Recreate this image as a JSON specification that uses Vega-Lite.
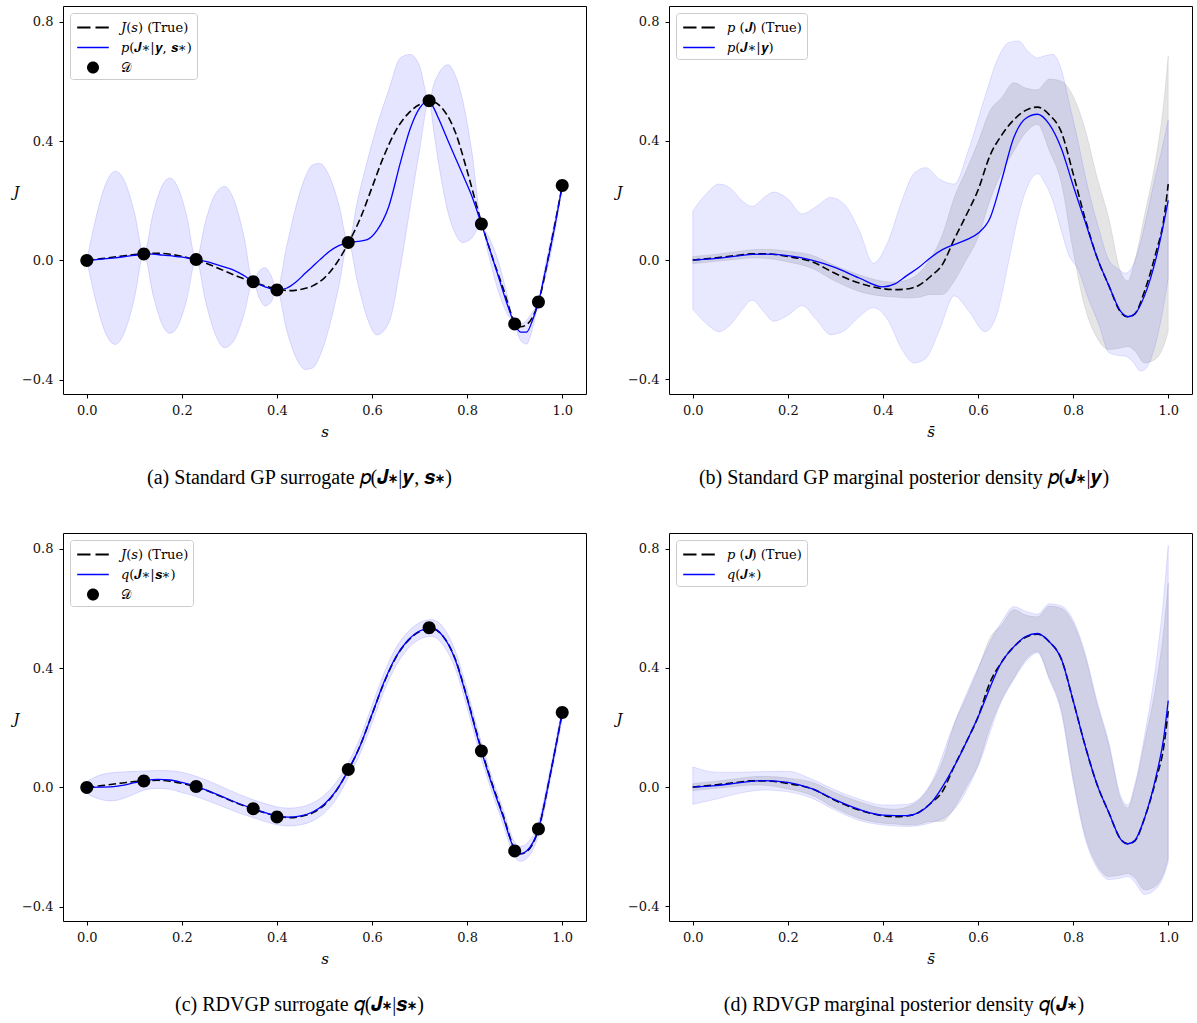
{
  "$schema": "https://vega.github.io/schema/vega-lite/v6.json",
  "background": "white",
  "padding": {"left": 12, "top": 5, "right": 4, "bottom": 4},
  "datasets": {
    "trueA": [
      {"s":0,"J":0},{"s":0.025,"J":0.005},{"s":0.05,"J":0.01},{"s":0.075,"J":0.015},{"s":0.1,"J":0.02},
      {"s":0.125,"J":0.023},{"s":0.15,"J":0.024},{"s":0.175,"J":0.021},{"s":0.2,"J":0.014},{"s":0.225,"J":0.004},
      {"s":0.25,"J":-0.009},{"s":0.275,"J":-0.025},{"s":0.3,"J":-0.042},{"s":0.325,"J":-0.058},{"s":0.35,"J":-0.072},
      {"s":0.375,"J":-0.085},{"s":0.4,"J":-0.095},{"s":0.425,"J":-0.101},{"s":0.45,"J":-0.097},{"s":0.475,"J":-0.085},
      {"s":0.5,"J":-0.058},{"s":0.525,"J":-0.01},{"s":0.55,"J":0.058},{"s":0.575,"J":0.14},{"s":0.6,"J":0.245},
      {"s":0.625,"J":0.35},{"s":0.65,"J":0.435},{"s":0.675,"J":0.49},{"s":0.7,"J":0.522},{"s":0.725,"J":0.532},
      {"s":0.75,"J":0.505},{"s":0.775,"J":0.43},{"s":0.8,"J":0.3},{"s":0.825,"J":0.155},{"s":0.85,"J":0.025},
      {"s":0.875,"J":-0.09},{"s":0.9,"J":-0.205},{"s":0.9125,"J":-0.222},{"s":0.925,"J":-0.215},{"s":0.95,"J":-0.14},
      {"s":0.975,"J":0.045},{"s":1,"J":0.25}
    ],
    "pts": [
      {"s":0,"J":0},{"s":0.12,"J":0.022},{"s":0.23,"J":0.003},{"s":0.35,"J":-0.071},{"s":0.4,"J":-0.099},
      {"s":0.55,"J":0.06},{"s":0.72,"J":0.535},{"s":0.83,"J":0.122},{"s":0.9,"J":-0.213},{"s":0.95,"J":-0.139},{"s":1,"J":0.251}
    ],
    "gpA": [
      {"s":0,"m":0,"lo":0,"hi":0},
      {"s":0.02,"m":0.003,"lo":-0.142,"hi":0.148},
      {"s":0.04,"m":0.006,"lo":-0.245,"hi":0.257},
      {"s":0.06,"m":0.009,"lo":-0.281,"hi":0.299},
      {"s":0.08,"m":0.013,"lo":-0.238,"hi":0.264},
      {"s":0.1,"m":0.017,"lo":-0.128,"hi":0.162},
      {"s":0.12,"m":0.022,"lo":0.022,"hi":0.022},
      {"s":0.14,"m":0.021,"lo":-0.119,"hi":0.161},
      {"s":0.16,"m":0.018,"lo":-0.219,"hi":0.255},
      {"s":0.175,"m":0.016,"lo":-0.244,"hi":0.276},
      {"s":0.19,"m":0.013,"lo":-0.224,"hi":0.25},
      {"s":0.21,"m":0.009,"lo":-0.133,"hi":0.151},
      {"s":0.23,"m":0.003,"lo":0.003,"hi":0.003},
      {"s":0.25,"m":-0.003,"lo":-0.138,"hi":0.132},
      {"s":0.27,"m":-0.012,"lo":-0.246,"hi":0.222},
      {"s":0.29,"m":-0.022,"lo":-0.292,"hi":0.248},
      {"s":0.31,"m":-0.033,"lo":-0.267,"hi":0.201},
      {"s":0.33,"m":-0.05,"lo":-0.185,"hi":0.085},
      {"s":0.35,"m":-0.071,"lo":-0.071,"hi":-0.071},
      {"s":0.3625,"m":-0.08,"lo":-0.125,"hi":-0.035},
      {"s":0.375,"m":-0.088,"lo":-0.152,"hi":-0.024},
      {"s":0.3875,"m":-0.095,"lo":-0.14,"hi":-0.05},
      {"s":0.4,"m":-0.099,"lo":-0.099,"hi":-0.099},
      {"s":0.42,"m":-0.093,"lo":-0.231,"hi":0.045},
      {"s":0.44,"m":-0.072,"lo":-0.325,"hi":0.181},
      {"s":0.46,"m":-0.042,"lo":-0.365,"hi":0.281},
      {"s":0.475,"m":-0.02,"lo":-0.36,"hi":0.32},
      {"s":0.49,"m":0.002,"lo":-0.321,"hi":0.325},
      {"s":0.51,"m":0.03,"lo":-0.223,"hi":0.283},
      {"s":0.53,"m":0.05,"lo":-0.088,"hi":0.188},
      {"s":0.55,"m":0.06,"lo":0.06,"hi":0.06},
      {"s":0.57,"m":0.064,"lo":-0.077,"hi":0.205},
      {"s":0.59,"m":0.07,"lo":-0.193,"hi":0.333},
      {"s":0.61,"m":0.1,"lo":-0.249,"hi":0.449},
      {"s":0.635,"m":0.18,"lo":-0.21,"hi":0.57},
      {"s":0.66,"m":0.33,"lo":-0.019,"hi":0.679},
      {"s":0.68,"m":0.44,"lo":0.177,"hi":0.69},
      {"s":0.7,"m":0.51,"lo":0.369,"hi":0.651},
      {"s":0.72,"m":0.535,"lo":0.535,"hi":0.535},
      {"s":0.73,"m":0.51,"lo":0.43,"hi":0.59},
      {"s":0.74,"m":0.475,"lo":0.325,"hi":0.626},
      {"s":0.76,"m":0.4,"lo":0.16,"hi":0.655},
      {"s":0.775,"m":0.345,"lo":0.09,"hi":0.62},
      {"s":0.79,"m":0.29,"lo":0.06,"hi":0.54},
      {"s":0.81,"m":0.215,"lo":0.075,"hi":0.363},
      {"s":0.83,"m":0.122,"lo":0.122,"hi":0.122},
      {"s":0.845,"m":0.05,"lo":0.019,"hi":0.081},
      {"s":0.865,"m":-0.05,"lo":-0.1,"hi":0.0},
      {"s":0.885,"m":-0.15,"lo":-0.181,"hi":-0.119},
      {"s":0.9,"m":-0.213,"lo":-0.213,"hi":-0.213},
      {"s":0.9125,"m":-0.24,"lo":-0.268,"hi":-0.212},
      {"s":0.925,"m":-0.24,"lo":-0.28,"hi":-0.2},
      {"s":0.9375,"m":-0.2,"lo":-0.228,"hi":-0.172},
      {"s":0.95,"m":-0.139,"lo":-0.139,"hi":-0.139},
      {"s":0.9625,"m":-0.05,"lo":-0.068,"hi":-0.032},
      {"s":0.975,"m":0.04,"lo":0.015,"hi":0.065},
      {"s":0.9875,"m":0.14,"lo":0.122,"hi":0.158},
      {"s":1,"m":0.251,"lo":0.251,"hi":0.251}
    ],
    "trueB": [
      {"s":0,"J":0,"lo":-0.012,"hi":0.012},
      {"s":0.05,"J":0.008,"lo":-0.004,"hi":0.02},
      {"s":0.1,"J":0.017,"lo":0.004,"hi":0.03},
      {"s":0.125,"J":0.021,"lo":0.007,"hi":0.035},
      {"s":0.15,"J":0.021,"lo":0.006,"hi":0.036},
      {"s":0.2,"J":0.012,"lo":-0.006,"hi":0.03},
      {"s":0.25,"J":-0.005,"lo":-0.027,"hi":0.017},
      {"s":0.3,"J":-0.045,"lo":-0.071,"hi":-0.019},
      {"s":0.35,"J":-0.077,"lo":-0.105,"hi":-0.049},
      {"s":0.4,"J":-0.096,"lo":-0.121,"hi":-0.071},
      {"s":0.425,"J":-0.099,"lo":-0.124,"hi":-0.074},
      {"s":0.45,"J":-0.097,"lo":-0.127,"hi":-0.067},
      {"s":0.475,"J":-0.085,"lo":-0.125,"hi":-0.045},
      {"s":0.5,"J":-0.055,"lo":-0.115,"hi":0.005},
      {"s":0.525,"J":-0.015,"lo":-0.115,"hi":0.085},
      {"s":0.55,"J":0.07,"lo":-0.07,"hi":0.21},
      {"s":0.575,"J":0.15,"lo":0.0,"hi":0.3},
      {"s":0.6,"J":0.235,"lo":0.075,"hi":0.395},
      {"s":0.625,"J":0.35,"lo":0.2,"hi":0.5},
      {"s":0.65,"J":0.42,"lo":0.295,"hi":0.545},
      {"s":0.675,"J":0.47,"lo":0.365,"hi":0.595},
      {"s":0.7,"J":0.502,"lo":0.427,"hi":0.577},
      {"s":0.725,"J":0.513,"lo":0.455,"hi":0.571},
      {"s":0.75,"J":0.487,"lo":0.367,"hi":0.607},
      {"s":0.775,"J":0.43,"lo":0.26,"hi":0.6},
      {"s":0.8,"J":0.29,"lo":0.03,"hi":0.55},
      {"s":0.825,"J":0.14,"lo":-0.16,"hi":0.44},
      {"s":0.85,"J":0.01,"lo":-0.26,"hi":0.28},
      {"s":0.875,"J":-0.085,"lo":-0.3,"hi":0.14},
      {"s":0.9,"J":-0.175,"lo":-0.295,"hi":-0.04},
      {"s":0.915,"J":-0.19,"lo":-0.29,"hi":-0.07},
      {"s":0.93,"J":-0.18,"lo":-0.305,"hi":0.0},
      {"s":0.95,"J":-0.105,"lo":-0.345,"hi":0.15},
      {"s":0.975,"J":0.03,"lo":-0.33,"hi":0.35},
      {"s":0.99,"J":0.13,"lo":-0.29,"hi":0.52},
      {"s":1,"J":0.255,"lo":-0.24,"hi":0.685}
    ],
    "meanB": [
      {"s":0,"m":0},{"s":0.05,"m":0.006},{"s":0.1,"m":0.015},{"s":0.125,"m":0.019},{"s":0.15,"m":0.02},
      {"s":0.2,"m":0.015},{"s":0.25,"m":0.0},{"s":0.3,"m":-0.025},{"s":0.35,"m":-0.06},{"s":0.4,"m":-0.09},
      {"s":0.425,"m":-0.08},{"s":0.45,"m":-0.052},{"s":0.475,"m":-0.025},{"s":0.5,"m":0.008},{"s":0.525,"m":0.035},
      {"s":0.55,"m":0.052},{"s":0.575,"m":0.068},{"s":0.6,"m":0.09},{"s":0.625,"m":0.14},{"s":0.65,"m":0.27},
      {"s":0.675,"m":0.41},{"s":0.7,"m":0.475},{"s":0.725,"m":0.489},{"s":0.75,"m":0.455},{"s":0.775,"m":0.375},
      {"s":0.8,"m":0.25},{"s":0.825,"m":0.13},{"s":0.85,"m":0.01},{"s":0.875,"m":-0.085},{"s":0.9,"m":-0.172},
      {"s":0.915,"m":-0.19},{"s":0.93,"m":-0.18},{"s":0.95,"m":-0.12},{"s":0.975,"m":0.01},{"s":1,"m":0.2}
    ],
    "bandB": [
      {"s":0,"lo":-0.165,"hi":0.165},{"s":0.03,"lo":-0.215,"hi":0.225},{"s":0.055,"lo":-0.24,"hi":0.255},
      {"s":0.08,"lo":-0.215,"hi":0.24},{"s":0.1,"lo":-0.175,"hi":0.205},{"s":0.125,"lo":-0.135,"hi":0.18},
      {"s":0.15,"lo":-0.175,"hi":0.21},{"s":0.17,"lo":-0.205,"hi":0.228},{"s":0.2,"lo":-0.185,"hi":0.205},
      {"s":0.23,"lo":-0.153,"hi":0.155},{"s":0.26,"lo":-0.2,"hi":0.18},{"s":0.29,"lo":-0.25,"hi":0.21},
      {"s":0.32,"lo":-0.235,"hi":0.185},{"s":0.35,"lo":-0.19,"hi":0.1},{"s":0.38,"lo":-0.16,"hi":-0.01},
      {"s":0.41,"lo":-0.2,"hi":0.06},{"s":0.44,"lo":-0.3,"hi":0.2},{"s":0.465,"lo":-0.345,"hi":0.29},
      {"s":0.49,"lo":-0.33,"hi":0.31},{"s":0.52,"lo":-0.23,"hi":0.27},{"s":0.55,"lo":-0.12,"hi":0.255},
      {"s":0.58,"lo":-0.17,"hi":0.37},{"s":0.615,"lo":-0.24,"hi":0.55},{"s":0.64,"lo":-0.18,"hi":0.67},
      {"s":0.665,"lo":0.0,"hi":0.73},{"s":0.685,"lo":0.15,"hi":0.735},{"s":0.705,"lo":0.25,"hi":0.7},
      {"s":0.725,"lo":0.29,"hi":0.678},{"s":0.74,"lo":0.26,"hi":0.685},{"s":0.757,"lo":0.2,"hi":0.69},
      {"s":0.775,"lo":0.1,"hi":0.64},{"s":0.79,"lo":0.02,"hi":0.54},{"s":0.81,"lo":-0.03,"hi":0.4},
      {"s":0.83,"lo":-0.12,"hi":0.25},{"s":0.855,"lo":-0.22,"hi":0.1},{"s":0.875,"lo":-0.31,"hi":0.0},
      {"s":0.895,"lo":-0.32,"hi":-0.03},{"s":0.91,"lo":-0.322,"hi":-0.044},{"s":0.925,"lo":-0.34,"hi":-0.02},
      {"s":0.942,"lo":-0.372,"hi":0.06},{"s":0.955,"lo":-0.36,"hi":0.15},{"s":0.97,"lo":-0.3,"hi":0.26},
      {"s":0.985,"lo":-0.2,"hi":0.36},{"s":1,"lo":-0.06,"hi":0.47}
    ],
    "gpC": [
      {"s":0,"m":0,"lo":-0.02,"hi":0.02},{"s":0.025,"m":0.001,"lo":-0.038,"hi":0.04},
      {"s":0.05,"m":0.002,"lo":-0.045,"hi":0.049},{"s":0.075,"m":0.007,"lo":-0.038,"hi":0.052},
      {"s":0.1,"m":0.016,"lo":-0.022,"hi":0.054},{"s":0.125,"m":0.024,"lo":-0.007,"hi":0.055},
      {"s":0.15,"m":0.027,"lo":-0.003,"hi":0.057},{"s":0.175,"m":0.025,"lo":-0.006,"hi":0.056},
      {"s":0.2,"m":0.017,"lo":-0.017,"hi":0.051},{"s":0.225,"m":0.006,"lo":-0.028,"hi":0.04},
      {"s":0.25,"m":-0.008,"lo":-0.042,"hi":0.026},{"s":0.275,"m":-0.024,"lo":-0.057,"hi":0.009},
      {"s":0.3,"m":-0.041,"lo":-0.073,"hi":-0.009},{"s":0.325,"m":-0.057,"lo":-0.088,"hi":-0.026},
      {"s":0.35,"m":-0.071,"lo":-0.101,"hi":-0.041},{"s":0.375,"m":-0.084,"lo":-0.114,"hi":-0.054},
      {"s":0.4,"m":-0.095,"lo":-0.125,"hi":-0.065},{"s":0.425,"m":-0.099,"lo":-0.129,"hi":-0.069},
      {"s":0.45,"m":-0.095,"lo":-0.125,"hi":-0.065},{"s":0.475,"m":-0.082,"lo":-0.112,"hi":-0.052},
      {"s":0.5,"m":-0.055,"lo":-0.085,"hi":-0.025},{"s":0.525,"m":-0.01,"lo":-0.038,"hi":0.018},
      {"s":0.55,"m":0.058,"lo":0.033,"hi":0.083},{"s":0.575,"m":0.14,"lo":0.113,"hi":0.167},
      {"s":0.6,"m":0.245,"lo":0.215,"hi":0.275},{"s":0.625,"m":0.352,"lo":0.322,"hi":0.382},
      {"s":0.65,"m":0.437,"lo":0.407,"hi":0.467},{"s":0.675,"m":0.492,"lo":0.464,"hi":0.52},
      {"s":0.7,"m":0.524,"lo":0.496,"hi":0.552},{"s":0.725,"m":0.534,"lo":0.506,"hi":0.562},
      {"s":0.75,"m":0.505,"lo":0.475,"hi":0.535},{"s":0.775,"m":0.428,"lo":0.398,"hi":0.458},
      {"s":0.8,"m":0.297,"lo":0.267,"hi":0.327},{"s":0.825,"m":0.15,"lo":0.122,"hi":0.178},
      {"s":0.85,"m":0.02,"lo":-0.005,"hi":0.045},{"s":0.875,"m":-0.095,"lo":-0.12,"hi":-0.07},
      {"s":0.9,"m":-0.208,"lo":-0.233,"hi":-0.183},{"s":0.9125,"m":-0.222,"lo":-0.247,"hi":-0.197},
      {"s":0.925,"m":-0.213,"lo":-0.238,"hi":-0.188},{"s":0.95,"m":-0.138,"lo":-0.16,"hi":-0.116},
      {"s":0.975,"m":0.045,"lo":0.025,"hi":0.065},{"s":1,"m":0.25,"lo":0.23,"hi":0.27}
    ],
    "gpD": [
      {"s":0,"m":0,"lo":-0.058,"hi":0.068},{"s":0.05,"m":0.005,"lo":-0.04,"hi":0.05},
      {"s":0.1,"m":0.015,"lo":-0.02,"hi":0.05},{"s":0.15,"m":0.022,"lo":-0.01,"hi":0.052},
      {"s":0.2,"m":0.016,"lo":-0.016,"hi":0.053},{"s":0.25,"m":-0.005,"lo":-0.037,"hi":0.027},
      {"s":0.3,"m":-0.043,"lo":-0.078,"hi":-0.01},{"s":0.35,"m":-0.075,"lo":-0.112,"hi":-0.04},
      {"s":0.4,"m":-0.094,"lo":-0.127,"hi":-0.06},{"s":0.45,"m":-0.096,"lo":-0.132,"hi":-0.058},
      {"s":0.5,"m":-0.055,"lo":-0.12,"hi":0.01},{"s":0.55,"m":0.07,"lo":-0.075,"hi":0.215},
      {"s":0.6,"m":0.235,"lo":0.07,"hi":0.4},{"s":0.65,"m":0.42,"lo":0.29,"hi":0.555},
      {"s":0.675,"m":0.47,"lo":0.36,"hi":0.605},{"s":0.7,"m":0.505,"lo":0.42,"hi":0.59},
      {"s":0.725,"m":0.515,"lo":0.45,"hi":0.58},{"s":0.75,"m":0.487,"lo":0.36,"hi":0.615},
      {"s":0.775,"m":0.43,"lo":0.25,"hi":0.608},{"s":0.8,"m":0.29,"lo":0.02,"hi":0.56},
      {"s":0.825,"m":0.14,"lo":-0.17,"hi":0.45},{"s":0.85,"m":0.01,"lo":-0.27,"hi":0.29},
      {"s":0.875,"m":-0.085,"lo":-0.31,"hi":0.15},{"s":0.9,"m":-0.175,"lo":-0.305,"hi":-0.03},
      {"s":0.915,"m":-0.19,"lo":-0.3,"hi":-0.06},{"s":0.93,"m":-0.178,"lo":-0.32,"hi":0.01},
      {"s":0.95,"m":-0.105,"lo":-0.36,"hi":0.17},{"s":0.975,"m":0.04,"lo":-0.34,"hi":0.42},
      {"s":0.99,"m":0.16,"lo":-0.3,"hi":0.63},{"s":1,"m":0.29,"lo":-0.25,"hi":0.81}
    ]
  },
  "columns": 2,
  "spacing": {"row": 43, "column": 28},
  "resolve": {"scale": {"x": "independent", "y": "independent", "color": "independent", "stroke": "independent", "fill": "independent", "shape": "independent"}},
  "concat": [
    {
      "width": 523, "height": 388,
      "title": {"text": "(a) Standard GP surrogate 𝑝(𝑱∗|𝒚, 𝒔∗)", "orient": "bottom", "anchor": "middle", "frame": "bounds", "font": "Liberation Serif", "fontSize": 20, "fontWeight": "normal", "color": "black", "offset": 29},
      "layer": [
        {
          "data": {"name": "gpA"},
          "mark": {"type": "area", "interpolate": "monotone", "color": "#0000ff", "fillOpacity": 0.1, "stroke": "#0000ff", "strokeOpacity": 0.12, "strokeWidth": 1},
          "encoding": {
            "x": {"field": "s", "type": "quantitative", "scale": {"domain": [-0.05, 1.05], "nice": false, "zero": false}, "axis": {"values": [0, 0.2, 0.4, 0.6, 0.8, 1], "format": ".1f", "title": "s"}},
            "y": {"field": "lo", "type": "quantitative", "scale": {"domain": [-0.447, 0.852], "nice": false, "zero": false}, "axis": {"values": [-0.4, 0, 0.4, 0.8], "format": ".1f", "title": "J", "titleAngle": 0, "titleX": -47, "titleY": 185, "titleAlign": "center", "titleBaseline": "middle"}},
            "y2": {"field": "hi"}
          }
        },
        {
          "data": {"name": "trueA"},
          "mark": {"type": "line", "interpolate": "monotone", "strokeDash": [7.5, 3.5], "strokeWidth": 1.6},
          "encoding": {
            "x": {"field": "s", "type": "quantitative"},
            "y": {"field": "J", "type": "quantitative"},
            "stroke": {"datum": "𝐽(𝑠) (True)", "scale": {"domain": ["𝐽(𝑠) (True)", "𝑝(𝑱∗|𝒚, 𝒔∗)", "𝒟"], "range": ["black", "#0000ff", "black"]}, "legend": {"title": null}}
          }
        },
        {
          "data": {"name": "gpA"},
          "mark": {"type": "line", "interpolate": "monotone", "strokeWidth": 1.3},
          "encoding": {
            "x": {"field": "s", "type": "quantitative"},
            "y": {"field": "m", "type": "quantitative"},
            "stroke": {"datum": "𝑝(𝑱∗|𝒚, 𝒔∗)"}
          }
        },
        {
          "data": {"name": "pts"},
          "mark": {"type": "point", "filled": true, "size": 467, "opacity": 1, "strokeWidth": 0},
          "encoding": {
            "x": {"field": "s", "type": "quantitative"},
            "y": {"field": "J", "type": "quantitative"},
            "fill": {"datum": "𝒟", "scale": {"domain": ["𝐽(𝑠) (True)", "𝑝(𝑱∗|𝒚, 𝒔∗)", "𝒟"], "range": ["black", "#0000ff", "black"]}, "legend": {"title": null}},
            "shape": {"datum": "𝒟", "scale": {"domain": ["𝐽(𝑠) (True)", "𝑝(𝑱∗|𝒚, 𝒔∗)", "𝒟"], "range": ["M-1.58,-0.09H-0.25V0.09H-1.58Z M0.25,-0.09H1.58V0.09H0.25Z", "M-1.58,-0.075H1.58V0.075H-1.58Z", "M0.6,0A0.6,0.6,0,1,1,-0.6,0A0.6,0.6,0,1,1,0.6,0Z"]}, "legend": {"title": null}}
          }
        }
      ]
    },
    {
      "width": 523, "height": 388,
      "title": {"text": "(b) Standard GP marginal posterior density 𝑝(𝑱∗|𝒚)", "orient": "bottom", "anchor": "middle", "frame": "bounds", "font": "Liberation Serif", "fontSize": 20, "fontWeight": "normal", "color": "black", "offset": 29},
      "layer": [
        {
          "data": {"name": "trueB"},
          "mark": {"type": "area", "interpolate": "monotone", "color": "black", "fillOpacity": 0.1, "stroke": "black", "strokeOpacity": 0.08, "strokeWidth": 1},
          "encoding": {
            "x": {"field": "s", "type": "quantitative", "scale": {"domain": [-0.05, 1.05], "nice": false, "zero": false}, "axis": {"values": [0, 0.2, 0.4, 0.6, 0.8, 1], "format": ".1f", "title": "s̄"}},
            "y": {"field": "lo", "type": "quantitative", "scale": {"domain": [-0.449, 0.852], "nice": false, "zero": false}, "axis": {"values": [-0.4, 0, 0.4, 0.8], "format": ".1f", "title": "J", "titleAngle": 0, "titleX": -50, "titleY": 185, "titleAlign": "center", "titleBaseline": "middle"}},
            "y2": {"field": "hi"}
          }
        },
        {
          "data": {"name": "bandB"},
          "mark": {"type": "area", "interpolate": "monotone", "color": "#0000ff", "fillOpacity": 0.09, "stroke": "#0000ff", "strokeOpacity": 0.1, "strokeWidth": 1},
          "encoding": {
            "x": {"field": "s", "type": "quantitative"},
            "y": {"field": "lo", "type": "quantitative"},
            "y2": {"field": "hi"}
          }
        },
        {
          "data": {"name": "trueB"},
          "mark": {"type": "line", "interpolate": "monotone", "strokeDash": [7.5, 3.5], "strokeWidth": 1.6},
          "encoding": {
            "x": {"field": "s", "type": "quantitative"},
            "y": {"field": "J", "type": "quantitative"},
            "stroke": {"datum": "𝑝 (𝑱) (True)", "scale": {"domain": ["𝑝 (𝑱) (True)", "𝑝(𝑱∗|𝒚)"], "range": ["black", "#0000ff"]}, "legend": {"title": null}}
          }
        },
        {
          "data": {"name": "meanB"},
          "mark": {"type": "line", "interpolate": "monotone", "strokeWidth": 1.3},
          "encoding": {
            "x": {"field": "s", "type": "quantitative"},
            "y": {"field": "m", "type": "quantitative"},
            "stroke": {"datum": "𝑝(𝑱∗|𝒚)"}
          }
        },
        {
          "data": {"name": "meanB"},
          "mark": {"type": "point", "filled": true, "size": 1, "opacity": 0, "strokeWidth": 0},
          "encoding": {
            "x": {"field": "s", "type": "quantitative"},
            "y": {"field": "m", "type": "quantitative"},
            "fill": {"datum": "𝑝(𝑱∗|𝒚)", "scale": {"domain": ["𝑝 (𝑱) (True)", "𝑝(𝑱∗|𝒚)"], "range": ["black", "#0000ff"]}, "legend": {"title": null}},
            "shape": {"datum": "𝑝(𝑱∗|𝒚)", "scale": {"domain": ["𝑝 (𝑱) (True)", "𝑝(𝑱∗|𝒚)"], "range": ["M-1.58,-0.09H-0.25V0.09H-1.58Z M0.25,-0.09H1.58V0.09H0.25Z", "M-1.58,-0.075H1.58V0.075H-1.58Z"]}, "legend": {"title": null}}
          }
        }
      ]
    },
    {
      "width": 523, "height": 388,
      "title": {"text": "(c) RDVGP surrogate 𝑞(𝑱∗|𝒔∗)", "orient": "bottom", "anchor": "middle", "frame": "bounds", "font": "Liberation Serif", "fontSize": 20, "fontWeight": "normal", "color": "black", "offset": 29},
      "layer": [
        {
          "data": {"name": "gpC"},
          "mark": {"type": "area", "interpolate": "monotone", "color": "#0000ff", "fillOpacity": 0.1, "stroke": "#0000ff", "strokeOpacity": 0.12, "strokeWidth": 1},
          "encoding": {
            "x": {"field": "s", "type": "quantitative", "scale": {"domain": [-0.05, 1.05], "nice": false, "zero": false}, "axis": {"values": [0, 0.2, 0.4, 0.6, 0.8, 1], "format": ".1f", "title": "s"}},
            "y": {"field": "lo", "type": "quantitative", "scale": {"domain": [-0.447, 0.852], "nice": false, "zero": false}, "axis": {"values": [-0.4, 0, 0.4, 0.8], "format": ".1f", "title": "J", "titleAngle": 0, "titleX": -47, "titleY": 185, "titleAlign": "center", "titleBaseline": "middle"}},
            "y2": {"field": "hi"}
          }
        },
        {
          "data": {"name": "trueA"},
          "mark": {"type": "line", "interpolate": "monotone", "strokeDash": [7.5, 3.5], "strokeWidth": 1.6},
          "encoding": {
            "x": {"field": "s", "type": "quantitative"},
            "y": {"field": "J", "type": "quantitative"},
            "stroke": {"datum": "𝐽(𝑠) (True)", "scale": {"domain": ["𝐽(𝑠) (True)", "𝑞(𝑱∗|𝒔∗)", "𝒟"], "range": ["black", "#0000ff", "black"]}, "legend": {"title": null}}
          }
        },
        {
          "data": {"name": "gpC"},
          "mark": {"type": "line", "interpolate": "monotone", "strokeWidth": 1.3},
          "encoding": {
            "x": {"field": "s", "type": "quantitative"},
            "y": {"field": "m", "type": "quantitative"},
            "stroke": {"datum": "𝑞(𝑱∗|𝒔∗)"}
          }
        },
        {
          "data": {"name": "pts"},
          "mark": {"type": "point", "filled": true, "size": 467, "opacity": 1, "strokeWidth": 0},
          "encoding": {
            "x": {"field": "s", "type": "quantitative"},
            "y": {"field": "J", "type": "quantitative"},
            "fill": {"datum": "𝒟", "scale": {"domain": ["𝐽(𝑠) (True)", "𝑞(𝑱∗|𝒔∗)", "𝒟"], "range": ["black", "#0000ff", "black"]}, "legend": {"title": null}},
            "shape": {"datum": "𝒟", "scale": {"domain": ["𝐽(𝑠) (True)", "𝑞(𝑱∗|𝒔∗)", "𝒟"], "range": ["M-1.58,-0.09H-0.25V0.09H-1.58Z M0.25,-0.09H1.58V0.09H0.25Z", "M-1.58,-0.075H1.58V0.075H-1.58Z", "M0.6,0A0.6,0.6,0,1,1,-0.6,0A0.6,0.6,0,1,1,0.6,0Z"]}, "legend": {"title": null}}
          }
        }
      ]
    },
    {
      "width": 523, "height": 388,
      "title": {"text": "(d) RDVGP marginal posterior density 𝑞(𝑱∗)", "orient": "bottom", "anchor": "middle", "frame": "bounds", "font": "Liberation Serif", "fontSize": 20, "fontWeight": "normal", "color": "black", "offset": 29},
      "layer": [
        {
          "data": {"name": "trueB"},
          "mark": {"type": "area", "interpolate": "monotone", "color": "black", "fillOpacity": 0.1, "stroke": "black", "strokeOpacity": 0.08, "strokeWidth": 1},
          "encoding": {
            "x": {"field": "s", "type": "quantitative", "scale": {"domain": [-0.05, 1.05], "nice": false, "zero": false}, "axis": {"values": [0, 0.2, 0.4, 0.6, 0.8, 1], "format": ".1f", "title": "s̄"}},
            "y": {"field": "lo", "type": "quantitative", "scale": {"domain": [-0.449, 0.852], "nice": false, "zero": false}, "axis": {"values": [-0.4, 0, 0.4, 0.8], "format": ".1f", "title": "J", "titleAngle": 0, "titleX": -50, "titleY": 185, "titleAlign": "center", "titleBaseline": "middle"}},
            "y2": {"field": "hi"}
          }
        },
        {
          "data": {"name": "gpD"},
          "mark": {"type": "area", "interpolate": "monotone", "color": "#0000ff", "fillOpacity": 0.09, "stroke": "#0000ff", "strokeOpacity": 0.1, "strokeWidth": 1},
          "encoding": {
            "x": {"field": "s", "type": "quantitative"},
            "y": {"field": "lo", "type": "quantitative"},
            "y2": {"field": "hi"}
          }
        },
        {
          "data": {"name": "trueB"},
          "mark": {"type": "line", "interpolate": "monotone", "strokeDash": [7.5, 3.5], "strokeWidth": 1.6},
          "encoding": {
            "x": {"field": "s", "type": "quantitative"},
            "y": {"field": "J", "type": "quantitative"},
            "stroke": {"datum": "𝑝 (𝑱) (True)", "scale": {"domain": ["𝑝 (𝑱) (True)", "𝑞(𝑱∗)"], "range": ["black", "#0000ff"]}, "legend": {"title": null}}
          }
        },
        {
          "data": {"name": "gpD"},
          "mark": {"type": "line", "interpolate": "monotone", "strokeWidth": 1.3},
          "encoding": {
            "x": {"field": "s", "type": "quantitative"},
            "y": {"field": "m", "type": "quantitative"},
            "stroke": {"datum": "𝑞(𝑱∗)"}
          }
        },
        {
          "data": {"name": "gpD"},
          "mark": {"type": "point", "filled": true, "size": 1, "opacity": 0, "strokeWidth": 0},
          "encoding": {
            "x": {"field": "s", "type": "quantitative"},
            "y": {"field": "m", "type": "quantitative"},
            "fill": {"datum": "𝑞(𝑱∗)", "scale": {"domain": ["𝑝 (𝑱) (True)", "𝑞(𝑱∗)"], "range": ["black", "#0000ff"]}, "legend": {"title": null}},
            "shape": {"datum": "𝑞(𝑱∗)", "scale": {"domain": ["𝑝 (𝑱) (True)", "𝑞(𝑱∗)"], "range": ["M-1.58,-0.09H-0.25V0.09H-1.58Z M0.25,-0.09H1.58V0.09H0.25Z", "M-1.58,-0.075H1.58V0.075H-1.58Z"]}, "legend": {"title": null}}
          }
        }
      ]
    }
  ],
  "config": {
    "view": {"stroke": "black", "strokeWidth": 1},
    "axis": {
      "domain": false, "grid": false, "ticks": true, "tickColor": "black", "tickSize": 4,
      "labelFont": "DejaVu Serif", "labelFontSize": 13, "labelColor": "#111111", "labelPadding": 6,
      "titleFont": "DejaVu Serif", "titleFontSize": 15, "titleFontStyle": "italic", "titleFontWeight": "normal", "titleColor": "black", "titlePadding": 7
    },
    "legend": {
      "orient": "top-left", "offset": 7, "padding": 4.5, "rowPadding": 3,
      "symbolSize": 400, "symbolOffset": 8.5, "labelOffset": 18, "symbolStrokeWidth": 0, "symbolOpacity": 1,
      "labelFont": "DejaVu Serif", "labelFontSize": 13, "labelColor": "black",
      "fillColor": "rgba(255,255,255,0.85)", "strokeColor": "#cccccc", "cornerRadius": 3
    }
  }
}
